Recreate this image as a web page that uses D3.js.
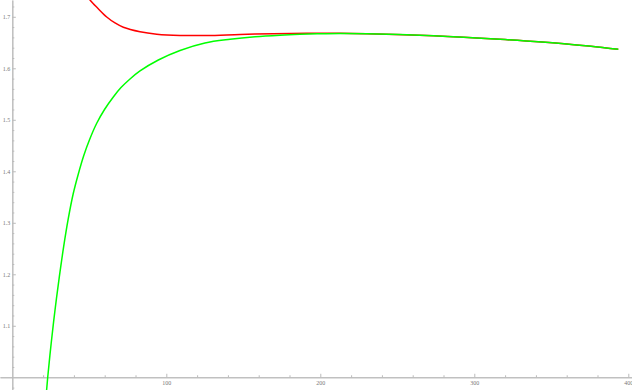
<!DOCTYPE html>
<html>
<head>
<meta charset="utf-8">
<script src="https://cdn.jsdelivr.net/npm/d3@7"></script>
<style>
  body { margin: 0; background: #fff; }
  .axis text { font-family: "Liberation Serif", serif; font-size: 6px; fill: #777; }
  .axis path, .axis line { stroke: #bbb; }
</style>
</head>
<body>
<div id="chart"></div>
<script>
// values: [x, y]
let redSeries = [
  [47.86, 1.7443], [50.45, 1.7326], [55.65, 1.7161], [61.30, 1.6996], [66.69, 1.6880],
  [72.08, 1.6796], [82.92, 1.6709], [93.77, 1.6662], [108.9, 1.6637], [126.2, 1.6637],
  [147.9, 1.6656], [169.3, 1.6671], [191.2, 1.6679], [212.8, 1.6681],
  [230.1, 1.6673], [273.4, 1.6633], [316.7, 1.6563], [360.0, 1.6472], [393.5, 1.6369]
]
let greenSeries = [
  [22.27, 0.9753], [22.99, 1.0], [25.26, 1.0666], [27.73, 1.1307], [30.52, 1.1948],
  [33.31, 1.2530], [36.30, 1.3074], [39.61, 1.3573], [42.86, 1.3948], [46.30, 1.4297],
  [50.19, 1.4617], [54.81, 1.4932], [59.87, 1.5200], [65.58, 1.5443], [70.58, 1.5625],
  [76.43, 1.5792], [82.92, 1.5948], [94.81, 1.6161], [108.9, 1.6346], [125.1, 1.6491],
  [141.4, 1.6563], [157.6, 1.6612], [173.8, 1.6643], [186.8, 1.6660], [199.8, 1.6671],
  [212.8, 1.6677], [230.1, 1.6673], [273.4, 1.6633], [316.7, 1.6563], [360.0, 1.6472],
  [393.5, 1.6369]
]
let xMajor = [100, 200, 300, 400]
let xMinor = d3.range(0, 401, 20).filter(d => d % 100 !== 0)
let yMajor = [1.1, 1.2, 1.3, 1.4, 1.5, 1.6, 1.7]
let yMinor = d3.range(49, 87).map(d => d / 50).filter(d => Math.round(d * 50) % 5 !== 0)

let width = 632, height = 390

let svg = d3.select("#chart").append("svg")
  .attr("width", width)
  .attr("height", height)

let xScale = d3.scaleLinear().domain([-8, 402.4]).range([0, width])
let yScale = d3.scaleLinear().domain([0.9753, 1.7326]).range([height, 0])

// AXES (Mathematica style, ticks pointing inward)
svg.append("g")
  .attr("class", "x axis")
  .attr("transform", "translate(0," + yScale(1.0) + ")")
  .call(d3.axisBottom(xScale).tickValues(xMinor).tickSize(-2).tickSizeOuter(0).tickFormat(""))

svg.append("g")
  .attr("class", "x axis")
  .attr("transform", "translate(0," + yScale(1.0) + ")")
  .call(d3.axisBottom(xScale).tickValues(xMajor).tickSize(-3.5).tickSizeOuter(0).tickPadding(3).tickFormat(d3.format("d")))

svg.append("g")
  .attr("class", "y axis")
  .attr("transform", "translate(" + xScale(0) + ",0)")
  .call(d3.axisLeft(yScale).tickValues(yMinor).tickSize(-2).tickSizeOuter(0).tickFormat(""))

svg.append("g")
  .attr("class", "y axis")
  .attr("transform", "translate(" + xScale(0) + ",0)")
  .call(d3.axisLeft(yScale).tickValues(yMajor).tickSize(-3.5).tickSizeOuter(0).tickPadding(2).tickFormat(d3.format(".1f")))

let line = d3.line()
  .x(d => xScale(d[0]))
  .y(d => yScale(d[1]))
  .curve(d3.curveCatmullRom.alpha(0.5))

svg.append("path")
  .datum(redSeries)
  .attr("fill", "none")
  .attr("stroke", "#ff0000")
  .attr("stroke-width", 1.5)
  .attr("d", line)

svg.append("path")
  .datum(greenSeries)
  .attr("fill", "none")
  .attr("stroke", "#00ff00")
  .attr("stroke-width", 1.5)
  .attr("d", line)
</script>
</body>
</html>
